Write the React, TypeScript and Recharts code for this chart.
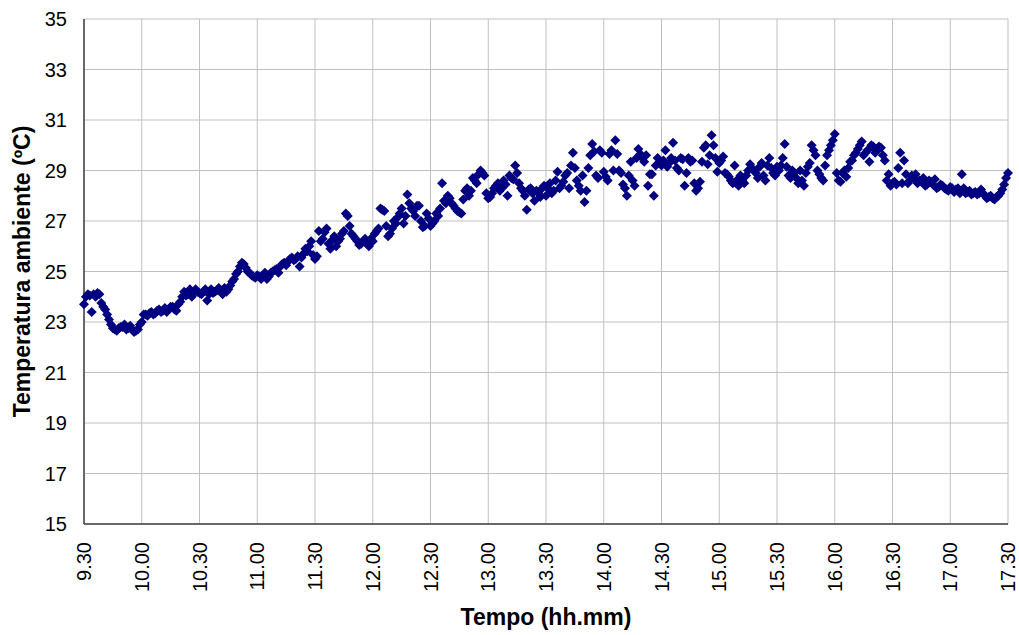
import React from 'react';
import { ScatterChart, Scatter, XAxis, YAxis, CartesianGrid, Label } from 'recharts';

// logger read every minute from 9.30; "even" lists hold minutes 0,2,4..., "odd" lists minutes 1,3,5...
const START_HOUR = 9.5;

const even0930 = [
  23.7, 24.1, 23.4, 24.0, 24.1, 23.6, 23.3, 22.9, 22.7, 22.75, 22.8, 22.7, 22.85, 22.6, 22.7,
  23.0, 23.3, 23.35, 23.3, 23.45, 23.4, 23.55, 23.5, 23.6, 23.45, 23.8, 24.2, 24.1, 24.0, 24.3,
];
const even1030 = [
  24.15, 24.2, 23.85, 24.3, 24.2, 24.35, 24.1, 24.2, 24.45, 24.7, 25.0, 25.35, 25.15, 24.95, 24.8,
  24.85, 24.7, 24.95, 24.8, 25.0, 25.1, 25.2, 25.35, 25.4, 25.55, 25.5, 25.2, 25.7, 25.8, 26.2,
];
const even1130 = [
  25.5, 26.6, 26.3, 26.7, 25.9, 26.4, 26.2, 26.5, 27.3, 26.8, 26.4, 26.2, 26.1, 26.3, 26.0,
  26.2, 26.6, 27.5, 27.4, 26.4, 26.7, 26.9, 27.3, 26.9, 28.05, 27.5, 27.2, 27.6, 26.75, 27.3,
];
const even1230 = [
  26.8, 27.0, 27.2, 28.5, 27.7, 27.9, 27.6, 27.4, 27.3, 28.2, 28.0, 28.7, 28.5, 29.0, 28.8,
  27.9, 28.1, 28.4, 28.2, 28.6, 28.0, 28.7, 29.2, 28.5, 28.2, 27.45, 28.3, 27.8, 28.1, 28.3,
];
const even1330 = [
  28.0, 28.5, 28.2, 28.95, 28.4, 28.8, 28.3, 29.7, 28.6, 28.2, 27.75, 29.1, 30.05, 28.8, 29.8,
  28.95, 28.6, 29.8, 30.2, 29.0, 28.45, 28.0, 29.35, 28.4, 29.85, 29.5, 29.6, 28.85, 28.0, 29.5,
];
const even1430 = [
  29.2, 29.8, 29.3, 30.1, 29.1, 29.5, 28.4, 29.5, 29.4, 28.2, 28.55, 29.9, 29.25, 30.4, 29.5,
  29.3, 29.55, 28.85, 28.6, 29.2, 28.4, 28.6, 28.8, 29.25, 29.0, 28.7, 29.3, 28.6, 29.5, 28.9,
];
const even1530 = [
  29.15, 29.2, 30.05, 28.8, 29.0, 28.7, 29.0, 28.4, 29.15, 30.0, 29.6, 28.85, 28.6, 29.6, 30.0,
  30.45, 28.6, 28.9, 28.75, 29.35, 29.6, 29.85, 30.15, 29.7, 29.35, 29.95, 29.8, 29.9, 29.4, 28.85,
];
const even1630 = [
  28.5, 28.45, 29.7, 29.4, 28.5, 28.8, 28.85, 28.6, 28.7, 28.45, 28.55, 28.65, 28.35, 28.4, 28.25,
  28.35, 28.15, 28.3, 28.85, 28.1, 28.2, 28.1, 28.05, 28.25, 28.0, 27.95, 27.9, 27.95, 28.1, 28.45,
  28.9,
];

const odd0930 = [
  24.0, 24.05, 24.1, 24.15, 23.75, 23.5, 23.1, 22.75, 22.65, 22.8, 22.9, 22.75, 22.7, 22.65, 22.9,
  23.3, 23.25, 23.4, 23.35, 23.5, 23.45, 23.4, 23.6, 23.5, 23.7, 24.0, 24.05, 24.3, 24.15, 24.2,
];
const odd1030 = [
  24.1, 24.3, 24.1, 24.15, 24.25, 24.2, 24.35, 24.3, 24.6, 24.9, 25.2, 25.3, 25.0, 24.85, 24.75,
  24.8, 24.85, 24.7, 24.95, 25.05, 24.95, 25.3, 25.25, 25.5, 25.45, 25.6, 25.55, 25.9, 26.0, 25.65,
];
const odd1130 = [
  25.6, 26.2, 26.55, 26.1, 26.25, 26.0, 26.3, 26.6, 27.2, 26.5, 26.3, 26.05, 26.2, 26.1, 26.3,
  26.5, 26.7, 27.45, 26.8, 26.5, 27.0, 27.15, 27.5, 27.2, 27.7, 27.4, 27.6, 27.0, 26.8, 27.1,
];
const odd1230 = [
  26.9, 27.3, 27.5, 27.8, 28.0, 27.7, 27.5, 27.35, 27.85, 28.3, 28.2, 28.6, 28.85, 28.9, 28.1,
  27.95, 28.3, 28.5, 28.3, 28.45, 28.8, 28.65, 28.9, 28.3, 28.0, 28.25, 28.1, 28.2, 27.95, 28.4,
];
const odd1330 = [
  28.3, 28.1, 28.6, 28.3, 28.55, 28.9, 29.2, 29.1, 28.4, 28.8, 28.2, 29.6, 29.75, 28.7, 29.7,
  28.75, 29.65, 29.0, 29.65, 28.9, 28.3, 28.8, 28.6, 29.5, 29.65, 29.35, 28.4, 28.85, 29.2, 29.3,
];
const odd1430 = [
  29.4, 29.15, 29.5, 29.4, 29.0, 29.45, 28.9, 29.35, 28.5, 28.3, 29.35, 30.0, 29.6, 30.0, 28.95,
  29.4, 28.9, 28.75, 28.5, 28.6, 28.8, 28.5, 29.0, 29.1, 28.9, 29.15, 28.8, 29.2, 29.1, 28.8,
];
const odd1530 = [
  29.0, 29.5, 29.15, 28.7, 28.9, 28.5, 28.6, 28.9, 29.3, 29.8, 29.0, 28.7, 29.2, 29.8, 30.2,
  28.9, 28.55, 29.0, 29.1, 29.4, 29.7, 30.0, 29.6, 29.8, 30.0, 29.7, 29.95, 29.6, 28.6, 28.4,
];
const odd1630 = [
  28.55, 29.1, 28.5, 28.85, 28.6, 28.7, 28.5, 28.55, 28.4, 28.6, 28.45, 28.3, 28.45, 28.3, 28.2,
  28.3, 28.25, 28.1, 28.3, 28.15, 28.05, 28.15, 28.1, 28.1, 27.9, 28.0, 27.85, 28.0, 28.25, 28.7,
];

const hourTicks = [9.5, 10, 10.5, 11, 11.5, 12, 12.5, 13, 13.5, 14, 14.5, 15, 15.5, 16, 16.5, 17, 17.5];
const hourLabels = ['9.30', '10.00', '10.30', '11.00', '11.30', '12.00', '12.30', '13.00', '13.30', '14.00', '14.30', '15.00', '15.30', '16.00', '16.30', '17.00', '17.30'];
const tempTicks = [15, 17, 19, 21, 23, 25, 27, 29, 31, 33, 35];

const evenTemps = [...even0930, ...even1030, ...even1130, ...even1230, ...even1330, ...even1430, ...even1530, ...even1630];
const oddTemps = [...odd0930, ...odd1030, ...odd1130, ...odd1230, ...odd1330, ...odd1430, ...odd1530, ...odd1630];
const data = [
  ...evenTemps.map((temp, i) => ({ minute: 2 * i, temp })),
  ...oddTemps.map((temp, i) => ({ minute: 2 * i + 1, temp })),
]
  .sort((a, b) => a.minute - b.minute)
  .map((d) => ({ hour: START_HOUR + d.minute / 60, temp: d.temp }));

const FONT = '"Liberation Sans", Arial, sans-serif';

const Diamond = (props: any) => {
  const { cx, cy } = props;
  const r = 5;
  return <path d={`M${cx},${cy - r}L${cx + r},${cy}L${cx},${cy + r}L${cx - r},${cy}Z`} fill="#000080" />;
};

const HourTick = (props: any) => {
  const { x, y, payload } = props;
  const idx = hourTicks.indexOf(payload.value);
  return (
    <text x={x} y={y} transform={`rotate(-90, ${x}, ${y})`} textAnchor="end" dominantBaseline="central"
      fontSize={20} fontFamily={FONT} fill="#000">
      {hourLabels[idx]}
    </text>
  );
};

export default function App() {
  return (
    <div style={{ position: 'absolute', left: 0, top: 0 }}>
      <ScatterChart width={1019} height={635} margin={{ top: 19, right: 11, bottom: 0, left: 0 }}>
        <CartesianGrid stroke="#c0c0c0" />
        <XAxis type="number" dataKey="hour" domain={[9.5, 17.5]} ticks={hourTicks} interval={0}
          height={111} tick={<HourTick />} tickLine={false} tickSize={18} tickMargin={0}
          axisLine={{ stroke: '#404040', strokeWidth: 1.5 }}>
          <Label content={(p: any) => (
            <text x={p.viewBox.x + p.viewBox.width / 2} y={p.viewBox.y + 101} textAnchor="middle"
              fontSize={23} fontWeight="bold" fontFamily={FONT} fill="#000">Tempo (hh.mm)</text>
          )} />
        </XAxis>
        <YAxis type="number" dataKey="temp" domain={[15, 35]} ticks={tempTicks} interval={0}
          width={84} tickLine={false} tickSize={17} tickMargin={0}
          tick={{ fontSize: 20, fontFamily: FONT, fill: '#000' }}
          axisLine={{ stroke: '#404040', strokeWidth: 1.5 }}>
          <Label content={(p: any) => {
            const cx = p.viewBox.x + 22;
            const cy = p.viewBox.y + p.viewBox.height / 2;
            return (
              <text x={cx} y={cy} transform={`rotate(-90, ${cx}, ${cy})`} textAnchor="middle"
                dominantBaseline="central" fontSize={23} fontWeight="bold" fontFamily={FONT} fill="#000">
                Temperatura ambiente (ºC)
              </text>
            );
          }} />
        </YAxis>
        <Scatter data={data} shape={<Diamond />} isAnimationActive={false} />
      </ScatterChart>
    </div>
  );
}
